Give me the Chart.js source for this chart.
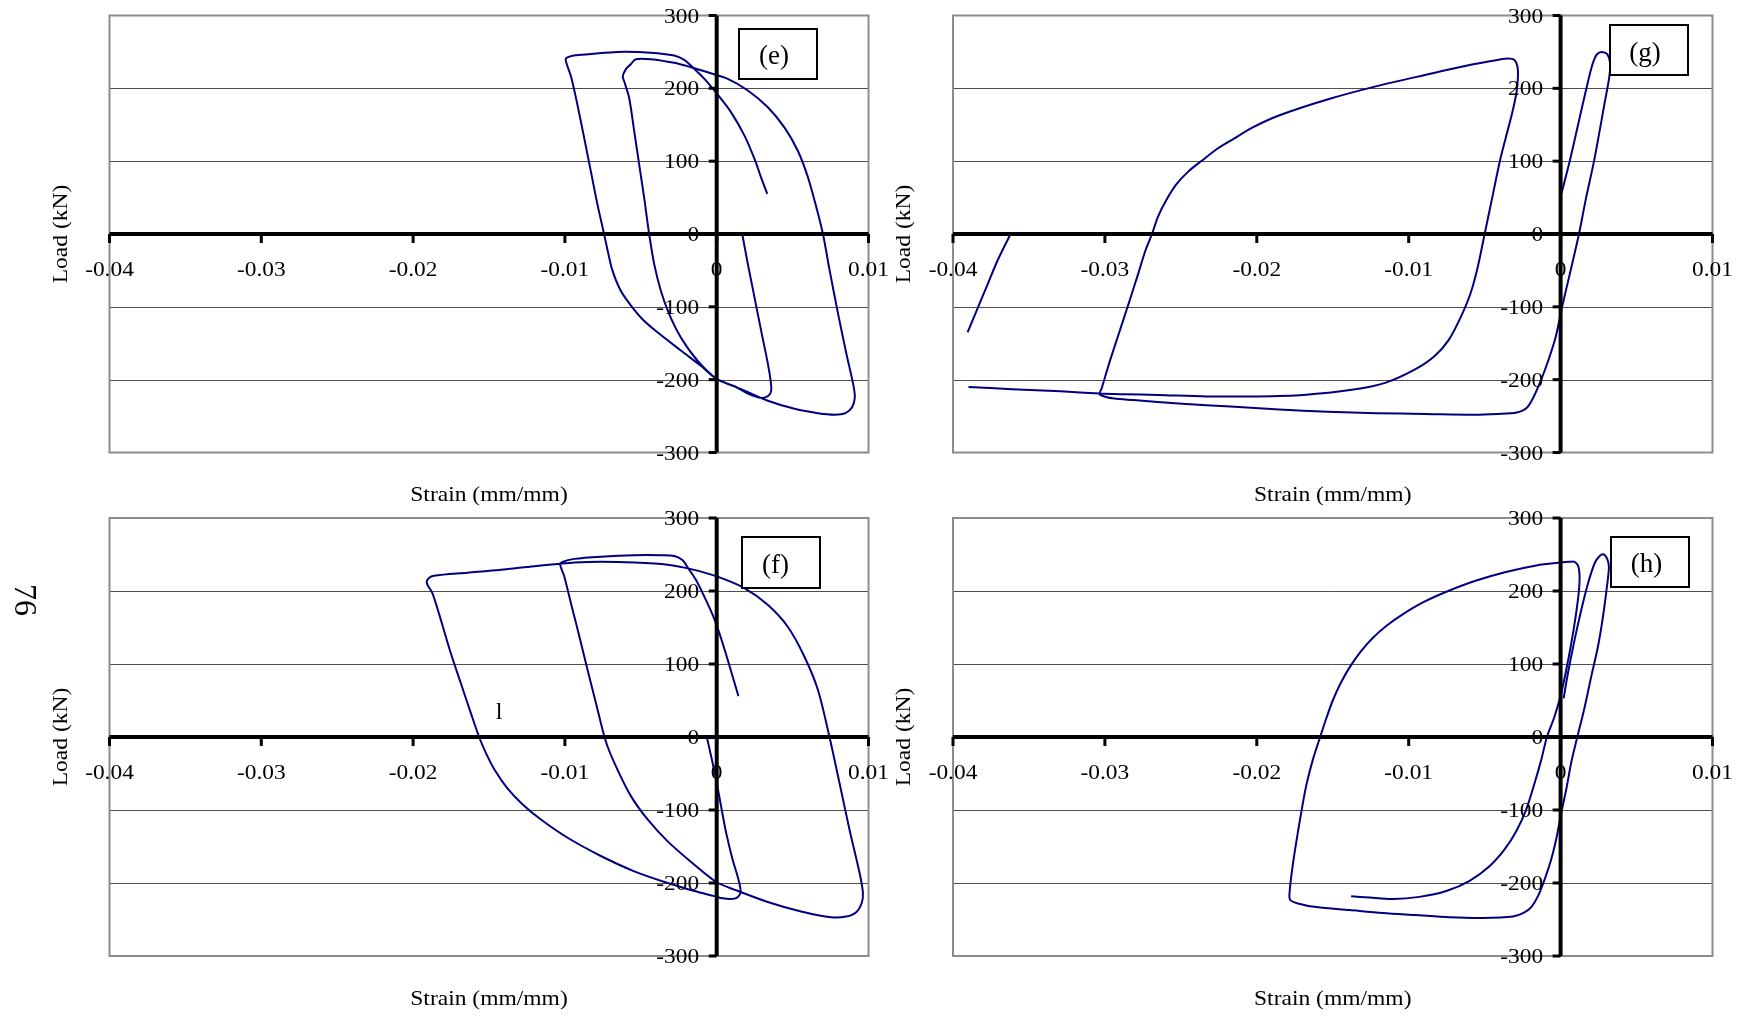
<!DOCTYPE html>
<html>
<head>
<meta charset="utf-8">
<script src="https://cdn.jsdelivr.net/npm/chart.js@4.4.1/dist/chart.umd.min.js"></script>
<style>
  html, body { margin: 0; padding: 0; background: #ffffff; }
  body { width: 1752px; height: 1016px; position: relative; overflow: hidden; }
  canvas { position: absolute; left: 0; top: 0; }
  .note { position: absolute; font-family: "Liberation Serif", "Times New Roman", serif; color: #000; line-height: 1; white-space: nowrap; }
</style>
</head>
<body>
<canvas id="panelE" width="1752" height="1016"></canvas>
<canvas id="panelG" width="1752" height="1016"></canvas>
<canvas id="panelF" width="1752" height="1016"></canvas>
<canvas id="panelH" width="1752" height="1016"></canvas>
<div class="note" id="pageNo" style="left:26px; top:600px; font-size:32px; transform: translate(-50%, -50%) rotate(90deg);">76</div>
<div class="note" id="stray" style="left:499px; top:711px; font-size:24px; transform: translate(-50%, -50%);">l</div>
<script>
// Axis ticks shared by all four panels
const strainTicks = [-0.04, -0.03, -0.02, -0.01, 0, 0.01];
const strainTickLabels = ['-0.04', '-0.03', '-0.02', '-0.01', '0', '0.01'];
const loadTicks = [300, 200, 100, 0, -100, -200, -300];
const loadTickLabels = ['300', '200', '100', '0', '-100', '-200', '-300'];

// Panel (e): strain (mm/mm) and load (kN) along the recorded path
const eStrain = [
  0.0017, 0.00205, 0.00249, 0.00293, 0.00337, 0.00355, 0.00359, 0.00341, 0.00293, 0.00205, 0.00117, 0,
  -0.00126, -0.00236, -0.00313, -0.00368, -0.00412, -0.00445, -0.00478, -0.00511, -0.00544, -0.00577, -0.0061, -0.00619, -0.00599, -0.00566, -0.00533,
  -0.00434, -0.0028, -0.0017, -0.00059, 0.00073, 0.00205, 0.00337, 0.00447, 0.00535, 0.00601, 0.00656, 0.007, 0.00744, 0.008, 0.00855, 0.00899, 0.0091, 0.00892, 0.00848, 0.00778, 0.00667, 0.00513, 0.00337, 0.00161, 0,
  -0.00104, -0.00236, -0.0039, -0.00489, -0.00566, -0.00632, -0.00687, -0.00716, -0.00742, -0.00786, -0.0083, -0.00874, -0.00918, -0.00958, -0.00989, -0.00993, -0.00941, -0.0083, -0.00654, -0.00434, -0.0028, -0.00214, -0.00159, -0.00081, 0, 0.00095, 0.00183, 0.00249, 0.00297, 0.00333
];
const eLoad = [
  -2, -41, -87, -133, -178, -201, -215, -222, -225, -219, -209, -199,
  -174, -142, -110, -78, -41, 0, 50, 96, 142, 187, 210, 216, 226, 233, 240,
  240, 235, 229, 222, 213, 197, 174, 146, 114, 78, 37, 0, -50, -110, -165, -206, -224, -238, -246, -248, -246, -240, -229, -213, -199,
  -181, -160, -135, -117, -98, -78, -50, -25, 0, 41, 87, 133, 178, 215, 234, 241, 245, 247, 250, 249, 245, 239, 229, 213, 193, 167, 135, 103, 75, 55
];

// Panel (f)
const fStrain = [
  -0.00064, -0.00037, -0.00004, 0.00029, 0.00062, 0.00105, 0.00138, 0.00156, 0.00156, 0.00134, 0.00095, 0.0004, -0.00015,
  -0.00147, -0.00323, -0.00543, -0.00763, -0.00982, -0.01158, -0.0128, -0.0138, -0.0146, -0.0152, -0.01565, -0.0162, -0.01686, -0.01752, -0.01818, -0.01873, -0.0191, -0.01895, -0.01862,
  -0.01642, -0.01422, -0.01202, -0.01048, -0.00938, -0.00763, -0.00543, -0.00323, -0.00169, 0, 0.00182, 0.00336, 0.00468, 0.00578, 0.00666, 0.00743, 0.00809, 0.00875, 0.00941, 0.00963, 0.00956, 0.00919, 0.00853, 0.00754, 0.00556, 0.00336, 0.00116, 0,
  -0.00147, -0.00323, -0.00455, -0.00565, -0.00653, -0.00719, -0.00752, -0.00796, -0.00851, -0.00905, -0.0096, -0.01004, -0.01031, -0.01015, -0.00938, -0.00763, -0.00543, -0.00367, -0.00279, -0.00224, -0.00187, -0.00136, -0.00081, -0.00026, 0.00018, 0.00062, 0.00105, 0.00143
];
const fLoad = [
  -1, -26, -58, -95, -131, -168, -191, -207, -214, -220, -222, -221, -218,
  -211, -200, -184, -163, -138, -113, -92, -70, -46, -22, 0, 33, 74, 115, 161, 197, 211, 218, 221,
  225, 229, 234, 237, 239, 240, 239, 236, 230, 220, 204, 181, 151, 110, 65, 0, -63, -127, -186, -213, -227, -240, -246, -247, -239, -226, -209, -199,
  -175, -143, -113, -81, -45, -13, 10, 47, 92, 138, 183, 220, 236, 240, 244, 247, 249, 249, 248, 242, 231, 215, 192, 167, 142, 113, 83, 56
];

// Panel (g); null marks where the record leaves the strain range
const gStrain = [
  0.00006, 0.0006, 0.00115, 0.0017, 0.0021, 0.0024, 0.00272, 0.00307, 0.00326, 0.0032, 0.0029, 0.0022, 0.00168, 0.00121, 0.00066, 0.0001, -0.00032, -0.0008, -0.00128, -0.00176, -0.00224, -0.00288, -0.00415,
  -0.00575, -0.00895, -0.01214, -0.01534, -0.01853, -0.02173, -0.02492, -0.02812, -0.02939, -0.03003, -0.03035,
  -0.0302, -0.02971, -0.02907, -0.02843, -0.0278, -0.02732, -0.0269, -0.0265, -0.026, -0.0253, -0.0245, -0.0236, -0.0226, -0.0215, -0.0203, -0.0185, -0.0153, -0.0121, -0.009, -0.00575,
  -0.00415, -0.00345, -0.00304, -0.00284, -0.00281, -0.0029, -0.0032, -0.0036, -0.004, -0.0045, -0.005, -0.00545, -0.00592, -0.00655, -0.00735, -0.00831, -0.00958, -0.0115, -0.01374, -0.01693,
  -0.02013, -0.02332, -0.02652, -0.02875, -0.03035, -0.03291, -0.0361, -0.03898,
  null,
  -0.03904, -0.03834, -0.0377, -0.03706, -0.03626
];
const gLoad = [
  56, 100, 150, 200, 233, 247, 250, 247, 235, 215, 180, 100, 50, 0, -50, -100, -141, -173, -200, -223, -239, -245, -247,
  -248, -247, -246, -244, -241, -237, -233, -228, -226, -223, -220,
  -211, -177, -136, -95, -54, -22, 0, 24, 45, 68, 86, 101, 117, 131, 146, 163, 185, 203, 218, 233,
  239, 241, 239, 230, 215, 195, 165, 133, 100, 50, 0, -45, -81, -113, -145, -168, -186, -204, -214, -221,
  -223, -223, -221, -220, -219, -216, -213, -210,
  null,
  -135, -100, -68, -36, -2
];

// Panel (h)
const hStrain = [
  0.0002, 0.00048, 0.00092, 0.00136, 0.0018, 0.00224, 0.00257, 0.00285, 0.00307, 0.00318, 0.00305, 0.00279, 0.00246, 0.00202, 0.00154, 0.0011, 0.0007, 0.00037, 0.00004, -0.00029,
  -0.00061, -0.00105, -0.00149, -0.00193, -0.00244, -0.00314, -0.00512, -0.00731, -0.0095, -0.0117, -0.0139, -0.01609, -0.0173, -0.0178,
  -0.01785, -0.01767, -0.01741, -0.01708, -0.01675, -0.01631, -0.01583, -0.0154, -0.015, -0.0145, -0.0139, -0.0132, -0.0124, -0.01148, -0.0104, -0.009, -0.0074, -0.0056, -0.0036, -0.0016,
  0, 0.0006, 0.00092, 0.00116, 0.00125, 0.00119, 0.00099, 0.0007, 0.00037, 0.00004,
  -0.0004, -0.0009, -0.00127, -0.00171, -0.00226, -0.00292, -0.00369, -0.00468, -0.00599, -0.00753, -0.00929, -0.01104, -0.01258, -0.01379
];
const hLoad = [
  53, 87, 133, 174, 210, 238, 248, 250, 244, 233, 206, 165, 124, 83, 37, 0, -35, -72, -104, -140,
  -167, -195, -218, -233, -241, -246, -248, -247, -244, -241, -237, -233, -228, -223,
  -215, -181, -145, -104, -67, -31, 0, 27, 50, 73, 95, 116, 135, 152, 168, 185, 200, 214, 226, 235,
  239, 240, 240, 234, 219, 197, 165, 128, 92, 60,
  28, 0, -31, -63, -99, -129, -154, -177, -197, -211, -219, -222, -220, -218
];

const SERIF = '"Liberation Serif", "Times New Roman", serif';

function toPoints(xs, ys) {
  return xs.map((v, i) => (v === null || ys[i] === null) ? { x: null, y: null } : { x: v, y: ys[i] });
}

// Text drawn with a horizontal stretch along its own direction
function stretchedText(ctx, str, x, y, size, align, sx, rot) {
  ctx.save();
  ctx.translate(x, y);
  if (rot) ctx.rotate(rot);
  ctx.scale(sx, 1);
  ctx.font = size + 'px ' + SERIF;
  ctx.textAlign = align;
  ctx.textBaseline = 'alphabetic';
  ctx.fillStyle = '#000';
  ctx.fillText(str, 0, 0);
  ctx.restore();
}

const figurePlugin = {
  id: 'figureFrame',
  beforeDatasetsDraw(chart) {
    const { ctx, chartArea: a, scales: { y } } = chart;
    ctx.save();
    ctx.strokeStyle = '#4d4d4d';
    ctx.lineWidth = 1;
    loadTicks.forEach(v => {
      if (v === 0 || Math.abs(v) === 300) return;
      const py = Math.round(y.getPixelForValue(v)) + 0.5;
      ctx.beginPath(); ctx.moveTo(a.left, py); ctx.lineTo(a.right, py); ctx.stroke();
    });
    ctx.strokeStyle = '#8c8c8c';
    ctx.lineWidth = 2;
    ctx.strokeRect(a.left, a.top, a.right - a.left, a.bottom - a.top);
    ctx.restore();
  },
  afterDatasetsDraw(chart, args, opts) {
    const { ctx, chartArea: a, scales: { x, y } } = chart;
    const x0 = x.getPixelForValue(0);
    const y0 = y.getPixelForValue(0);
    ctx.save();
    // Axes crossing at the origin
    ctx.strokeStyle = '#000';
    ctx.lineWidth = 4;
    ctx.beginPath(); ctx.moveTo(x0, a.top); ctx.lineTo(x0, a.bottom); ctx.stroke();
    ctx.beginPath(); ctx.moveTo(a.left, y0); ctx.lineTo(a.right, y0); ctx.stroke();
    // Tick marks
    ctx.lineWidth = 3;
    loadTicks.forEach(v => {
      const py = y.getPixelForValue(v);
      ctx.beginPath(); ctx.moveTo(x0 - 8, py); ctx.lineTo(x0, py); ctx.stroke();
    });
    strainTicks.forEach(v => {
      const px = x.getPixelForValue(v);
      ctx.beginPath(); ctx.moveTo(px, y0); ctx.lineTo(px, y0 + 9); ctx.stroke();
    });
    // Tick labels
    loadTicks.forEach((v, i) => {
      stretchedText(ctx, loadTickLabels[i], x0 - 17.5, y.getPixelForValue(v) + 7, 20, 'right', 1.17);
    });
    strainTicks.forEach((v, i) => {
      stretchedText(ctx, strainTickLabels[i], x.getPixelForValue(v), y0 + 42, 20, 'center', 1.17);
    });
    // Axis titles
    stretchedText(ctx, 'Strain (mm/mm)', (a.left + a.right) / 2, a.bottom + 48.5, 21, 'center', 1.12);
    stretchedText(ctx, 'Load (kN)', a.left - 43, (a.top + a.bottom) / 2, 21, 'center', 1.12, -Math.PI / 2);
    // Panel tag in a box
    const b = opts.box;
    ctx.fillStyle = '#fff';
    ctx.fillRect(b.x, b.y, b.w, b.h);
    ctx.strokeStyle = '#000';
    ctx.lineWidth = 2;
    ctx.strokeRect(b.x, b.y, b.w, b.h);
    stretchedText(ctx, opts.tag, b.tx, b.ty, 27, 'center', 1);
    ctx.restore();
  }
};

function makePanel(canvasId, xs, ys, area, tag, box) {
  const W = 1752, H = 1016;
  return new Chart(document.getElementById(canvasId), {
    type: 'scatter',
    data: {
      datasets: [{
        data: toPoints(xs, ys),
        showLine: true,
        spanGaps: false,
        borderColor: '#000080',
        backgroundColor: '#000080',
        borderWidth: 2,
        pointRadius: 0,
        tension: 0.3
      }]
    },
    options: {
      responsive: false,
      maintainAspectRatio: false,
      animation: false,
      devicePixelRatio: 1,
      events: [],
      layout: { padding: { left: area.left, top: area.top, right: W - area.right, bottom: H - area.bottom } },
      plugins: {
        legend: { display: false },
        tooltip: { enabled: false },
        figureFrame: { tag: tag, box: box }
      },
      scales: {
        x: { type: 'linear', min: -0.04, max: 0.01, display: false },
        y: { type: 'linear', min: -300, max: 300, display: false }
      }
    },
    plugins: [figurePlugin]
  });
}

makePanel('panelE', eStrain, eLoad, { left: 109.5, top: 15.5, right: 868.5, bottom: 452.5 }, '(e)', { x: 739, y: 29, w: 78, h: 50, tx: 774, ty: 63.8 });
makePanel('panelG', gStrain, gLoad, { left: 953, top: 15.5, right: 1712.5, bottom: 452.5 }, '(g)', { x: 1610, y: 25, w: 78, h: 50, tx: 1645, ty: 60.7 });
makePanel('panelF', fStrain, fLoad, { left: 109.5, top: 518, right: 868.5, bottom: 956 }, '(f)', { x: 742, y: 537, w: 78, h: 51, tx: 775.5, ty: 573 });
makePanel('panelH', hStrain, hLoad, { left: 953, top: 518, right: 1712.5, bottom: 956 }, '(h)', { x: 1611, y: 537, w: 78, h: 50, tx: 1646.5, ty: 571.5 });
</script>
</body>
</html>
